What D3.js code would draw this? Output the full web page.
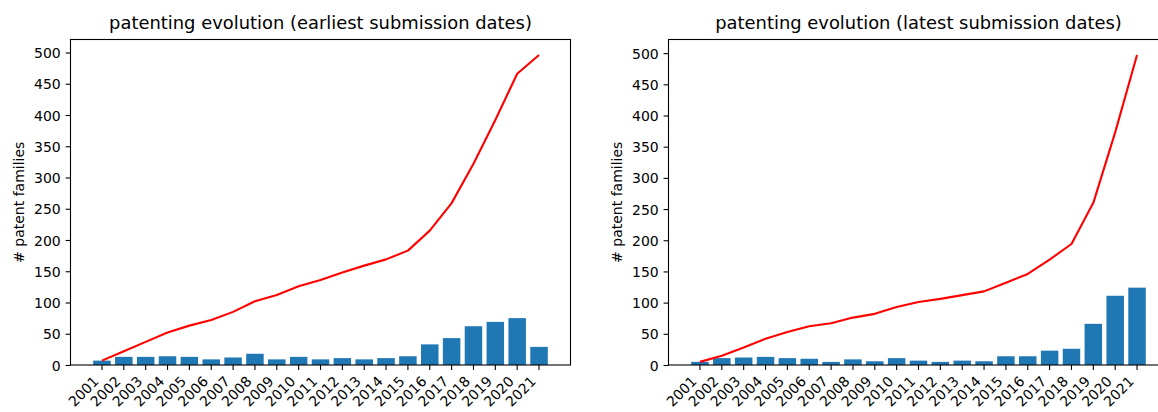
<!DOCTYPE html>
<html>
<head>
<meta charset="utf-8">
<script src="https://cdn.jsdelivr.net/npm/d3@7"></script>
<style>
  body { margin: 0; background: #fff; overflow: hidden; }
  text { font-family: "DejaVu Sans", sans-serif; fill: #000; }
</style>
</head>
<body>
<div id="chart"></div>
<script>
// data
var years = ["2001","2002","2003","2004","2005","2006","2007","2008","2009","2010","2011",
             "2012","2013","2014","2015","2016","2017","2018","2019","2020","2021"];
var earliestCounts = [7,13,13,14,13,9,12,18,9,13,9,11,9,11,14,33,43,62,69,75,29];
var earliestTotal  = [7,22,37,52,63,72,85,102,112,126,136,148,159,169,183,215,259,322,392,466,496];
var latestCounts   = [5,11,12,13,11,10,5,9,6,11,7,5,7,6,14,14,23,26,66,111,124];
var latestTotal    = [5,15,28,42,53,62,67,76,82,93,101,106,112,118,132,146,169,194,260,373,497];
var yTicks = [0,50,100,150,200,250,300,350,400,450,500];
var titles = ["patenting evolution (earliest submission dates)", "patenting evolution (latest submission dates)"];

var W = 1158, H = 412;
var svg = d3.select("#chart").append("svg")
  .attr("width", W).attr("height", H)
  .style("display", "block")
  .style("background", "#fff");

function drawPanel(left, counts, totals, title) {
  var top = 39.5, width = 500, height = 325.5;
  var g = svg.append("g").attr("transform", "translate(" + left + "," + top + ")");

  var x = d3.scaleBand()
    .domain(years)
    .range([0, width])
    .paddingInner(0.2)
    .paddingOuter(1.04);

  var ymax = d3.max(totals.concat(counts)) * 1.05;
  var y = d3.scaleLinear().domain([0, ymax]).range([height, 0]);

  // bars
  g.selectAll("rect.bar")
    .data(counts)
    .enter()
    .append("rect")
      .attr("class", "bar")
      .attr("x", function(d, i) { return x(years[i]); })
      .attr("width", x.bandwidth())
      .attr("y", function(d) { return y(d); })
      .attr("height", function(d) { return height - y(d); })
      .attr("fill", "#1f77b4");

  // cumulative line
  var line = d3.line()
    .x(function(d, i) { return x(years[i]) + x.bandwidth() / 2; })
    .y(function(d) { return y(d); });
  g.append("path")
    .datum(totals)
    .attr("d", line)
    .attr("fill", "none")
    .attr("stroke", "#ff0000")
    .attr("stroke-width", 2.1)
    .attr("stroke-linejoin", "round");

  // frame
  g.append("rect")
    .attr("x", 0).attr("y", 0)
    .attr("width", width).attr("height", height)
    .attr("fill", "none")
    .attr("stroke", "#000")
    .attr("stroke-width", 1.1);

  // y axis
  var yAxis = g.append("g")
    .call(d3.axisLeft(y).tickValues(yTicks).tickSize(4.9).tickPadding(4.9).tickSizeOuter(0));
  yAxis.select(".domain").remove();
  yAxis.selectAll("line").attr("stroke", "#000").attr("stroke-width", 1.1);
  yAxis.selectAll("text").style("font-size", "14px").attr("dy", "0.36em");

  // x axis
  var xAxis = g.append("g")
    .attr("transform", "translate(0," + height + ")")
    .call(d3.axisBottom(x).tickSize(4.9).tickSizeOuter(0));
  xAxis.select(".domain").remove();
  xAxis.selectAll("line").attr("stroke", "#000").attr("stroke-width", 1.1);
  xAxis.selectAll("text")
    .style("font-size", "14px")
    .style("text-anchor", "end")
    .attr("x", 0).attr("y", 0).attr("dy", 0)
    .attr("transform", "translate(-2.3,17.3)rotate(-45)");

  // y label
  g.append("text")
    .attr("transform", "translate(-47," + (height / 2) + ")rotate(-90)")
    .attr("text-anchor", "middle")
    .style("font-size", "14px")
    .text("# patent families");

  // title
  g.append("text")
    .attr("x", width / 2)
    .attr("y", -11)
    .attr("text-anchor", "middle")
    .style("font-size", "17.9px")
    .text(title);
}

drawPanel(70.5, earliestCounts, earliestTotal, titles[0]);
drawPanel(668.5, latestCounts, latestTotal, titles[1]);
</script>
</body>
</html>
